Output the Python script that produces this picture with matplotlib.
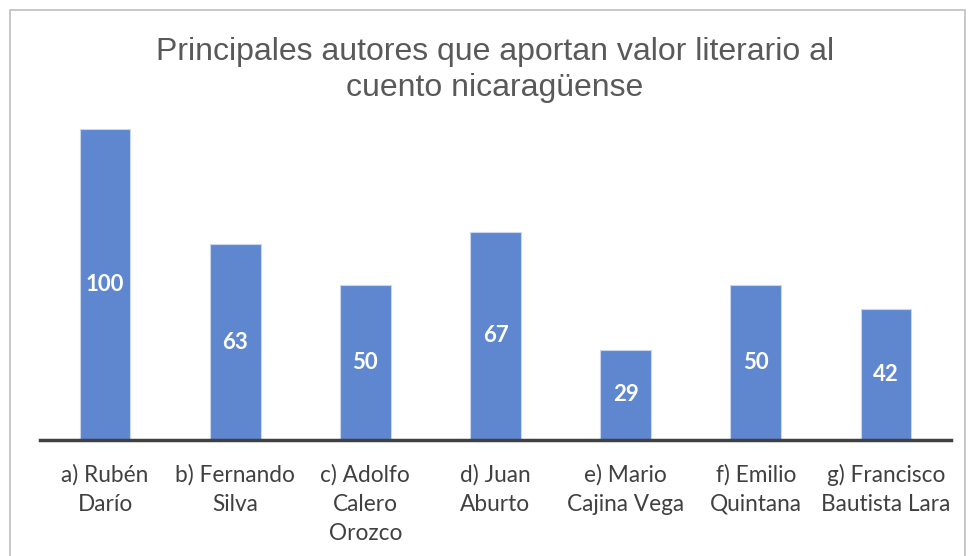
import matplotlib.pyplot as plt
from matplotlib.patches import Rectangle

categories = ['a) Rubén\nDarío', 'b) Fernando\nSilva', 'c) Adolfo\nCalero\nOrozco',
              'd) Juan\nAburto', 'e) Mario\nCajina Vega', 'f) Emilio\nQuintana',
              'g) Francisco\nBautista Lara']
values = [100, 63, 50, 67, 29, 50, 42]

W, H = 968, 556
fig = plt.figure(figsize=(W / 100, H / 100), dpi=100)

# chart area border
fig.patches.append(Rectangle((10 / W, -0.01), 955 / W, 1 - 10 / H + 0.01,
                             transform=fig.transFigure, fill=False,
                             edgecolor='#BFBFBF', linewidth=1.2))

ax = fig.add_axes([40 / W, 1 - 440 / H, 911 / W, 311 / H])
x = range(len(values))
bars = ax.bar(x, values, width=0.39, color='#5F87CF', edgecolor='#C9D6EE', linewidth=0.8)

for b, v in zip(bars, values):
    ax.text(b.get_x() + b.get_width() / 2, v / 2, str(v), ha='center', va='center',
            color='white', fontsize=16, fontweight='bold', family='Lato')

ax.set_xlim(-0.5, len(values) - 0.5)
ax.set_ylim(0, 100)
ax.set_yticks([])
ax.set_xticks(list(x))
ax.set_xticklabels(categories, fontsize=16.3, color='#404040', family='Lato', linespacing=1.5)
ax.tick_params(axis='x', length=0, pad=17)
for s in ['top', 'right', 'left']:
    ax.spines[s].set_visible(False)
ax.spines['bottom'].set_color('#404040')
ax.spines['bottom'].set_linewidth(2.5)

fig.text(495 / W, 1 - 70 / H, 'Principales autores que aportan valor literario al\ncuento nicaragüense',
         ha='center', va='center', fontsize=23, color='#595959',
         family='Liberation Sans', linespacing=1.3)

fig.savefig('out.png', dpi=100)
